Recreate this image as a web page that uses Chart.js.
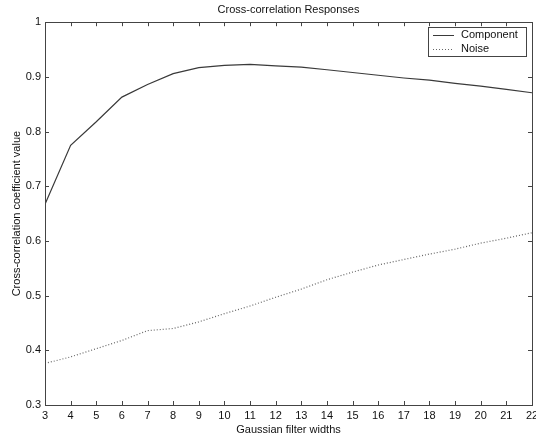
<!DOCTYPE html>
<html>
<head>
<meta charset="utf-8">
<script src="https://cdn.jsdelivr.net/npm/chart.js@4"></script>
<style>html,body{margin:0;padding:0;background:#fff}</style>
</head>
<body>
<canvas id="xcorr-chart" width="536" height="439"></canvas>
<script>
// values
const filterWidths = [3, 4, 5, 6, 7, 8, 9, 10, 11, 12, 13, 14, 15, 16, 17, 18, 19, 20, 21, 22];
const componentValues = [0.667, 0.775, 0.818, 0.863, 0.886, 0.906, 0.917, 0.921, 0.923, 0.920,
                         0.918, 0.913, 0.908, 0.903, 0.898, 0.894, 0.888, 0.883, 0.877, 0.871];
const noiseValues = [0.376, 0.388, 0.403, 0.418, 0.436, 0.440, 0.452, 0.467, 0.481, 0.497,
                     0.512, 0.529, 0.543, 0.556, 0.566, 0.576, 0.585, 0.596, 0.605, 0.615];

const axisColor = '#444';
Chart.defaults.font.family = "'Liberation Sans', Arial, sans-serif";
Chart.defaults.font.size = 11;
Chart.defaults.color = '#111';

// MATLAB style box with inward ticks, and the legend box
const boxPlugin = {
    id: 'box',
    afterLayout(chart) {
        // centre the title over the plot area
        const t = chart.titleBlock;
        t.left = chart.chartArea.left;
        t.right = chart.chartArea.right;
        t.width = t.right - t.left;
    },
    afterDraw(chart) {
        const ctx = chart.ctx;
        const a = chart.chartArea;
        const xs = chart.scales.x, ys = chart.scales.y;
        ctx.save();
        ctx.strokeStyle = axisColor;
        ctx.lineWidth = 1;
        ctx.strokeRect(Math.round(a.left) + 0.5, Math.round(a.top) + 0.5,
            Math.round(a.right - a.left), Math.round(a.bottom - a.top));
        const len = 4;
        ctx.beginPath();
        xs.ticks.forEach(t => {
            const px = Math.round(xs.getPixelForValue(t.value)) + 0.5;
            ctx.moveTo(px, a.bottom); ctx.lineTo(px, a.bottom - len);
            ctx.moveTo(px, a.top); ctx.lineTo(px, a.top + len);
        });
        ys.ticks.forEach(t => {
            const py = Math.round(ys.getPixelForValue(t.value)) + 0.5;
            ctx.moveTo(a.left, py); ctx.lineTo(a.left + len, py);
            ctx.moveTo(a.right, py); ctx.lineTo(a.right - len, py);
        });
        ctx.stroke();

        // legend
        const lx = 428, ly = 27, lw = 98, lh = 29;
        ctx.fillStyle = '#fff';
        ctx.fillRect(lx, ly, lw, lh);
        ctx.strokeRect(lx + 0.5, ly + 0.5, lw, lh);
        ctx.font = "11px 'Liberation Sans', Arial, sans-serif";
        ctx.textBaseline = 'middle';
        chart.data.datasets.forEach((ds, i) => {
            const y = ly + 7.5 + i * 14;
            ctx.strokeStyle = ds.borderColor;
            ctx.setLineDash(ds.borderDash || []);
            ctx.beginPath();
            ctx.moveTo(433, Math.round(y) + 0.5);
            ctx.lineTo(454, Math.round(y) + 0.5);
            ctx.stroke();
            ctx.setLineDash([]);
            ctx.fillStyle = '#111';
            ctx.fillText(ds.label, 461, y);
        });
        ctx.restore();
    }
};

new Chart(document.getElementById('xcorr-chart'), {
    type: 'line',
    data: {
        datasets: [{
            label: 'Component',
            data: filterWidths.map((w, i) => ({ x: w, y: componentValues[i] })),
            borderColor: '#3a3a3a',
            borderWidth: 1.2,
            pointRadius: 0,
            tension: 0
        }, {
            label: 'Noise',
            data: filterWidths.map((w, i) => ({ x: w, y: noiseValues[i] })),
            borderColor: '#666',
            borderWidth: 1.2,
            borderDash: [1, 2],
            pointRadius: 0,
            tension: 0
        }]
    },
    options: {
        responsive: false,
        animation: false,
        layout: { padding: { left: 0, right: 4, top: 0, bottom: 0 } },
        plugins: {
            legend: { display: false },
            tooltip: { enabled: false },
            title: {
                display: true,
                text: 'Cross-correlation Responses',
                font: { size: 11, weight: 'normal' },
                color: '#111',
                padding: { top: 3, bottom: 6 }
            }
        },
        scales: {
            x: {
                type: 'linear',
                min: 3,
                max: 22,
                grid: { display: false, drawTicks: false },
                border: { display: false },
                ticks: { stepSize: 1, padding: 4, color: '#111', maxRotation: 0, autoSkip: false },
                title: { display: true, text: 'Gaussian filter widths', color: '#111', padding: { top: 0, bottom: 2 } },
                afterFit(s) { s.height = 34; s.paddingLeft = 0; s.paddingRight = 0; }
            },
            y: {
                min: 0.3,
                max: 1,
                grid: { display: false, drawTicks: false },
                border: { display: false },
                ticks: {
                    stepSize: 0.1,
                    padding: 4,
                    color: '#111',
                    callback: v => String(Number(v.toFixed(2)))
                },
                title: { display: true, text: 'Cross-correlation coefficient value', color: '#111', padding: { top: 10, bottom: 0 } },
                afterFit(s) { s.width = 45; s.paddingTop = 0; s.paddingBottom = 0; }
            }
        }
    },
    plugins: [boxPlugin]
});
</script>
</body>
</html>
